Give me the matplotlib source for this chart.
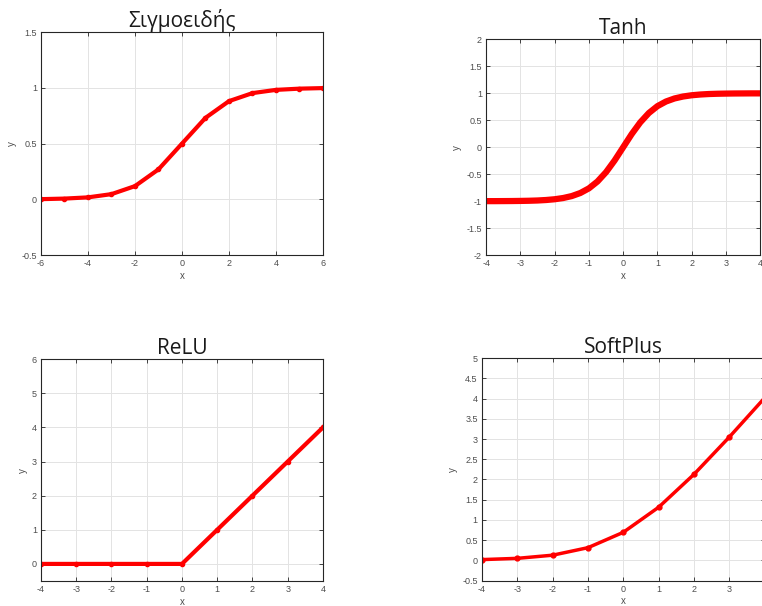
import matplotlib.pyplot as plt

# values
sig_x = [-6, -5, -4, -3, -2, -1, 0, 1, 2, 3, 4, 5, 6]
sig_y = [0.002, 0.007, 0.018, 0.047, 0.119, 0.269, 0.5, 0.731, 0.881, 0.953, 0.982, 0.993, 0.998]

tanh_x = [-4, -3.75, -3.5, -3.25, -3, -2.75, -2.5, -2.25, -2, -1.75, -1.5, -1.25, -1,
          -0.75, -0.5, -0.25, 0, 0.25, 0.5, 0.75, 1, 1.25, 1.5, 1.75, 2, 2.25, 2.5,
          2.75, 3, 3.25, 3.5, 3.75, 4]
tanh_y = [-0.999, -0.999, -0.998, -0.997, -0.995, -0.992, -0.987, -0.978, -0.964,
          -0.941, -0.905, -0.848, -0.762, -0.635, -0.462, -0.245, 0.0, 0.245, 0.462,
          0.635, 0.762, 0.848, 0.905, 0.941, 0.964, 0.978, 0.987, 0.992, 0.995,
          0.997, 0.998, 0.999, 0.999]

relu_x = [-4, -3, -2, -1, 0, 1, 2, 3, 4]
relu_y = [0, 0, 0, 0, 0, 1, 2, 3, 4]

sp_x = [-4, -3, -2, -1, 0, 1, 2, 3, 4]
sp_y = [0.018, 0.049, 0.127, 0.313, 0.693, 1.313, 2.127, 3.049, 4.018]

plt.rcParams['font.family'] = ['Liberation Sans', 'DejaVu Sans']

fig = plt.figure(figsize=(7.62, 6.06), dpi=100)

def style(ax, title, xlim, ylim, xticks, yticks, xlabels=None):
    ax.set_xlim(xlim)
    ax.set_ylim(ylim)
    ax.set_xticks(xticks)
    ax.set_yticks(yticks)
    if xlabels is None:
        xlabels = [f"{t:g}" for t in xticks]
    ax.set_xticklabels(xlabels)
    ax.set_yticklabels([f"{t:g}" for t in yticks])
    ax.grid(True, color='#e3e3e3', linewidth=0.7)
    ax.set_axisbelow(True)
    for s in ax.spines.values():
        s.set_color('#262626')
        s.set_linewidth(0.8)
    ax.tick_params(direction='in', length=3, width=0.6, color='#262626',
                   labelsize=6.5, labelcolor='#4d4d4d', top=True, right=True, pad=3)
    ax.set_xlabel('x', fontsize=7, color='#4d4d4d', labelpad=2)
    ax.set_ylabel('y', fontsize=7, color='#4d4d4d', labelpad=3)
    ax.set_title(title, fontsize=15, family=['Open Sans', 'DejaVu Sans'],
                 color='#1a1a1a', pad=4)

ax1 = fig.add_axes([0.0538, 0.579, 0.370, 0.368])
ax1.plot(sig_x, sig_y, color='red', linewidth=3, marker='o', markersize=3)
style(ax1, 'Σιγμοειδής', (-6, 6), (-0.5, 1.5), range(-6, 7, 2), [-0.5, 0, 0.5, 1, 1.5])

ax2 = fig.add_axes([0.638, 0.579, 0.3596, 0.356])
ax2.plot(tanh_x, tanh_y, color='red', linewidth=4.5, solid_capstyle='round')
style(ax2, 'Tanh', (-4, 4), (-2, 2), range(-4, 5), [-2, -1.5, -1, -0.5, 0, 0.5, 1, 1.5, 2])

ax3 = fig.add_axes([0.0538, 0.0413, 0.370, 0.366])
ax3.plot(relu_x, relu_y, color='red', linewidth=3, marker='o', markersize=3)
style(ax3, 'ReLU', (-4, 4), (-0.5, 6), range(-4, 5), range(0, 7))

# this panel runs past the right edge of the picture, as in the reference
ax4 = fig.add_axes([0.6325, 0.042, 0.371, 0.367])
ax4.plot(sp_x, sp_y, color='red', linewidth=2.5, marker='o', markersize=3.5)
style(ax4, 'SoftPlus', (-4, 4), (-0.5, 5), range(-4, 5),
      [-0.5, 0, 0.5, 1, 1.5, 2, 2.5, 3, 3.5, 4, 4.5, 5],
      xlabels=['-4', '-3', '-2', '-1', '0', '1', '2', '3', ''])

fig.savefig('out.png', dpi=100)
